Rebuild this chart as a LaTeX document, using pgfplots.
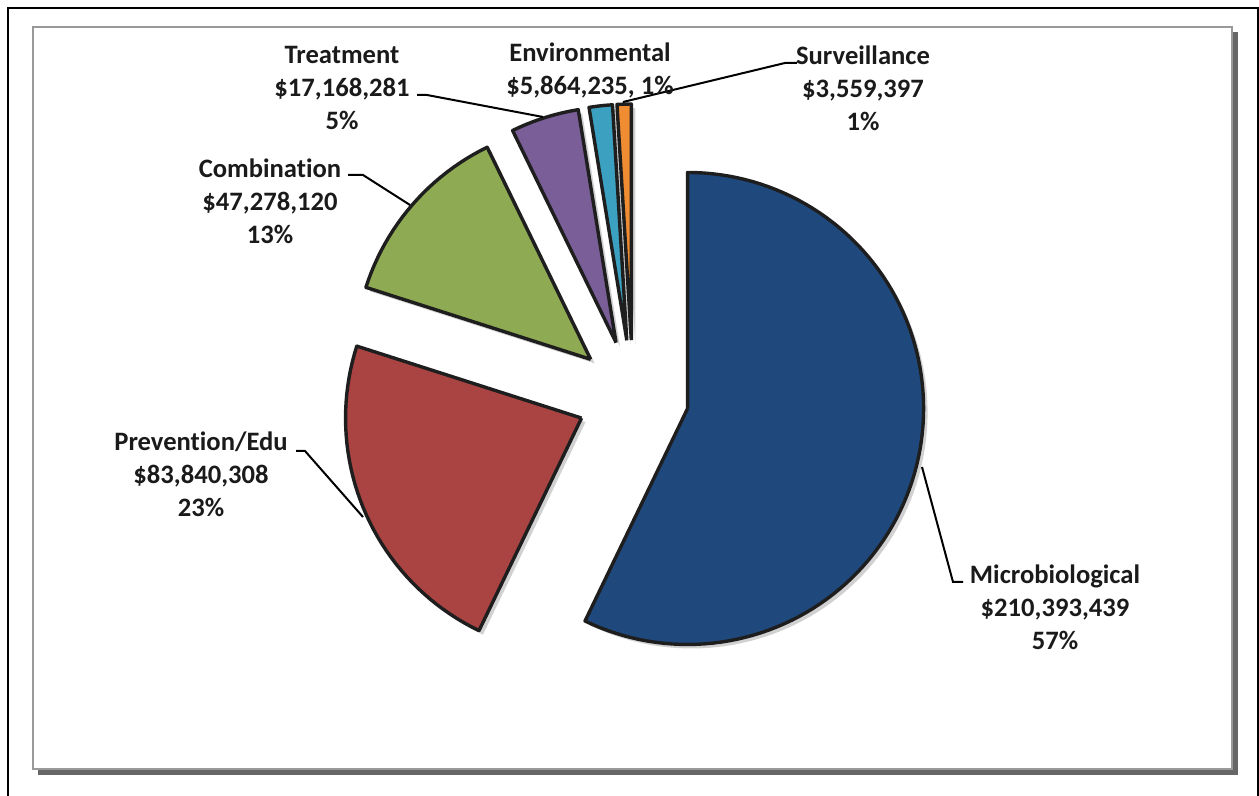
\documentclass[border=0pt]{standalone}
\usepackage{pgfplots}
\pgfplotsset{compat=1.18}
\usepackage{pgfplotstable}
\usepackage{fontspec}
\setmainfont{Carlito}[Ligatures={NoCommon,NoRare,NoContextual}]

\definecolor{cBlue}{RGB}{31,73,125}
\definecolor{cRed}{RGB}{169,68,66}
\definecolor{cGreen}{RGB}{142,170,82}
\definecolor{cPurple}{RGB}{122,94,152}
\definecolor{cCyan}{RGB}{60,160,192}
\definecolor{cOrange}{RGB}{240,140,50}
\definecolor{outl}{RGB}{30,30,30}
\definecolor{txt}{RGB}{26,26,26}

% funding by category (US$)
\pgfplotstableread[col sep=comma]{
name,value,color
Microbiological,210393439,cBlue
Prevention/Edu,83840308,cRed
Combination,47278120,cGreen
Treatment,17168281,cPurple
Environmental,5864235,cCyan
Surveillance,3559397,cOrange
}\piedata

% geometry in picture pixels (1 px = 0.5pt)
\def\CX{633}\def\CY{400}\def\R{236}\def\EXP{56}

\newcommand\buildwedges{%
  \gdef\total{0}%
  \foreach \i in {0,1,2,3,4,5}{%
    \pgfplotstablegetelem{\i}{value}\of\piedata
    \xdef\total{\fpeval{\total+\pgfplotsretval}}}%
  \gdef\angacc{90}%
  \foreach \i in {0,1,2,3,4,5}{%
    \pgfplotstablegetelem{\i}{value}\of\piedata
    \expandafter\xdef\csname angS\i\endcsname{\angacc}%
    \xdef\angacc{\fpeval{round(\angacc-\pgfplotsretval/\total*360,4)}}%
    \expandafter\xdef\csname angE\i\endcsname{\angacc}}%
  \foreach \i in {0,1,2,3,4,5}{%
    \edef\aS{\csname angS\i\endcsname}%
    \edef\aE{\csname angE\i\endcsname}%
    \edef\aM{\fpeval{(\aS+\aE)/2}}%
    \edef\cx{\fpeval{round(\CX+\EXP*cosd(\aM),3)}}%
    \edef\cy{\fpeval{round(\CY+\EXP*sind(\aM),3)}}%
    \edef\nseg{\fpeval{max(2,ceil((\aS-\aE)/2))}}%
    \xdef\wc{(\cx,\cy)}%
    \edef\sx{\fpeval{\cx+4}}\edef\sy{\fpeval{\cy-4}}%
    \xdef\ws{(\sx,\sy)}%
    \foreach \k in {0,...,\nseg}{%
      \edef\a{\fpeval{\aS-(\aS-\aE)*\k/\nseg}}%
      \edef\px{\fpeval{round(\cx+\R*cosd(\a),3)}}%
      \edef\py{\fpeval{round(\cy+\R*sind(\a),3)}}%
      \edef\qx{\fpeval{\px+4}}\edef\qy{\fpeval{\py-4}}%
      \xdef\wc{\wc (\px,\py)}%
      \xdef\ws{\ws (\qx,\qy)}}%
    \expandafter\xdef\csname wedge\i\endcsname{\wc (\cx,\cy)}%
    \expandafter\xdef\csname shadow\i\endcsname{\ws (\sx,\sy)}%
  }}

\begin{document}
\buildwedges
\begin{tikzpicture}[
  lbl/.style={font=\fontsize{13.3}{16.5}\selectfont\bfseries, text=txt, align=center, inner sep=0pt},
]
\begin{axis}[
  width=629.5pt, height=398pt, scale only axis,
  xmin=0, xmax=1259, ymin=0, ymax=796,
  hide axis, clip=false,
]
% bounding box
\path (0,0) rectangle (1259,796);
% outer frame
\draw[overlay, line width=1.25pt, black] (8,-10) -- (8,788) -- (1258,788) -- (1258,-10);
% chart area frame with shadow
\draw[line width=2.5pt, color=black!60] (1235.5,764) -- (1235.5,23) -- (38,23);
\draw[line width=1.25pt, color=black!40] (33,27) rectangle (1232,769);

% slice shadows
\pgfplotsinvokeforeach{0,...,5}{%
  \edef\tmp{\noexpand\addplot[fill=black, fill opacity=0.18, draw=none] coordinates {\csname shadow#1\endcsname};}%
  \tmp
}
% slices
\pgfplotsinvokeforeach{0,...,5}{%
  \pgfplotstablegetelem{#1}{color}\of\piedata
  \edef\tmp{\noexpand\addplot[fill=\pgfplotsretval, draw=outl, line width=1.7pt, line join=round] coordinates {\csname wedge#1\endcsname};}%
  \tmp
}

% leader lines
\draw[line width=1pt, black] (922,329) -- (953,214) -- (963,214);
\draw[line width=1pt, black] (363,279) -- (305,345) -- (296,345);
\draw[line width=1pt, black] (410,591) -- (363,621) -- (348,621);
\draw[line width=1pt, black] (543,679) -- (427,701) -- (417,701);
\draw[line width=1pt, black] (623,694) -- (785,733) -- (797,733);

% labels
\node[lbl] at (1055,189) {Microbiological\\\$210,393,439\\57\%};
\node[lbl] at (201,322) {Prevention/Edu\\\$83,840,308\\23\%};
\node[lbl] at (270,595) {Combination\\\$47,278,120\\13\%};
\node[lbl] at (342,708) {Treatment\\\$17,168,281\\5\%};
\node[lbl] at (590,726) {Environmental\\\$5,864,235, 1\%};
\node[lbl] at (863,708) {Surveillance\\\$3,559,397\\1\%};
\end{axis}
\end{tikzpicture}
\end{document}
